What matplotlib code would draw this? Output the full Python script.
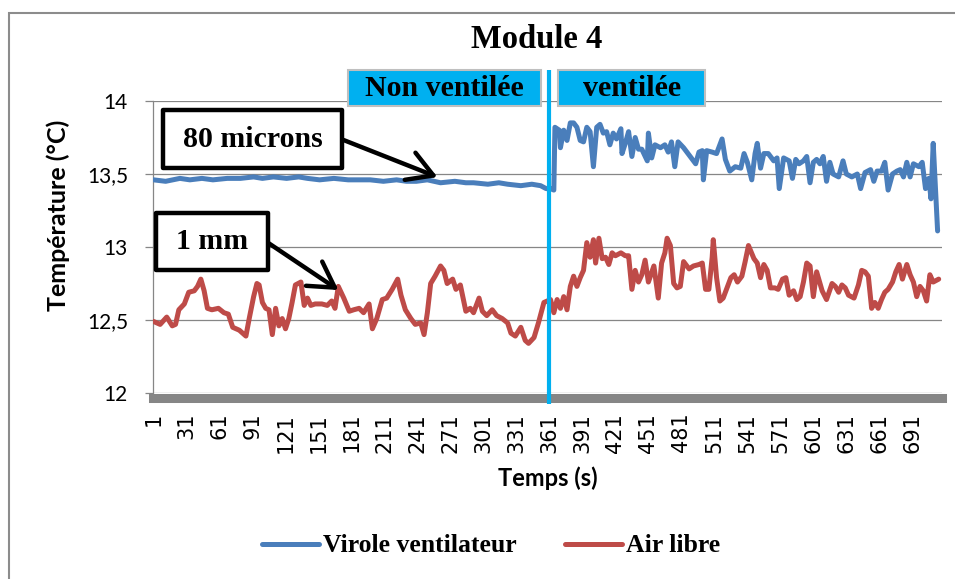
import matplotlib.pyplot as plt
from matplotlib.patches import Rectangle
from matplotlib.font_manager import FontProperties

# Virole ventilateur (blue) - time (s) and temperature (°C)
t_virole = [1, 12, 25, 34, 45, 55, 68, 80, 92, 100, 110, 122, 133, 141, 152, 165, 178,
            186, 198, 210, 222, 231, 240, 250, 262, 275, 285, 292, 305, 315, 323, 335,
            345, 353, 358, 362, 365,
            366, 370, 371, 374, 377, 380, 383, 386, 389, 392, 395, 398, 401, 404, 407,
            410, 413, 416, 419, 422, 426, 427, 430, 433, 436, 439, 442, 445, 450, 451,
            454, 457, 462, 466, 469, 472, 475, 478, 483, 486, 489, 494, 497, 500, 501,
            504, 509, 513, 518, 521, 525, 530, 535, 538, 541, 545, 548, 550, 553, 556,
            560, 565, 568, 570, 574, 579, 582, 585, 588, 592, 595, 598, 601, 604, 607,
            610, 613, 616, 619, 624, 628, 631, 636, 641, 644, 648, 653, 656, 659, 663,
            666, 669, 673, 677, 680, 683, 686, 689, 692, 697, 700, 703, 706, 708, 710, 714]
virole = [13.46, 13.45, 13.47, 13.46, 13.47, 13.46, 13.47, 13.47, 13.48, 13.47, 13.48,
          13.47, 13.48, 13.47, 13.46, 13.47, 13.46, 13.46, 13.46, 13.45, 13.46, 13.45,
          13.45, 13.46, 13.44, 13.45, 13.44, 13.44, 13.43, 13.44, 13.43, 13.42, 13.43,
          13.42, 13.40, 13.40, 13.39,
          13.82, 13.80, 13.68, 13.80, 13.73, 13.85, 13.85, 13.82, 13.73, 13.72, 13.82,
          13.79, 13.55, 13.82, 13.84, 13.78, 13.79, 13.70, 13.78, 13.74, 13.81, 13.64,
          13.71, 13.79, 13.62, 13.75, 13.67, 13.67, 13.59, 13.78, 13.61, 13.70, 13.68,
          13.70, 13.65, 13.72, 13.55, 13.72, 13.68, 13.65, 13.62, 13.57, 13.65, 13.66,
          13.46, 13.66, 13.65, 13.64, 13.74, 13.60, 13.52, 13.55, 13.54, 13.64, 13.58,
          13.46, 13.64, 13.71, 13.54, 13.64, 13.64, 13.59, 13.61, 13.40, 13.61, 13.59,
          13.47, 13.60, 13.57, 13.59, 13.62, 13.44, 13.58, 13.60, 13.57, 13.62, 13.45,
          13.58, 13.50, 13.48, 13.59, 13.50, 13.48, 13.50, 13.40, 13.51, 13.53, 13.45,
          13.52, 13.52, 13.58, 13.39, 13.50, 13.52, 13.53, 13.48, 13.58, 13.48, 13.57,
          13.55, 13.58, 13.40, 13.47, 13.33, 13.71, 13.11]

# Air libre (red)
t_air = [1, 7, 13, 18, 21, 24, 29, 33, 38, 41, 44, 47, 50, 54, 60, 65, 69, 73, 79, 85,
         88, 92, 95, 97, 100, 103, 106, 109, 112, 115, 118, 121, 124, 127, 130, 135, 138,
         141, 144, 148, 154, 159, 163, 166, 169, 174, 179, 183, 188, 192, 197, 200, 204,
         209, 213, 218, 223, 226, 230, 235, 239, 244, 247, 250, 253, 257, 262, 265, 268,
         273, 276, 280, 285, 289, 292, 297, 300, 304, 309, 313, 318, 323, 326, 330, 335,
         339, 342, 347, 351, 356,
         362, 365, 368, 371, 374, 377, 380, 383, 386, 389, 392, 395, 398, 401, 403, 406,
         409, 412, 415, 418, 421, 426, 430, 433, 436, 439, 442, 445, 448, 451, 456, 460,
         463, 466, 468, 471, 474, 477, 480, 483, 488, 492, 497, 500, 503, 506, 509, 510,
         513, 516, 519, 523, 526, 529, 532, 536, 539, 542, 547, 550, 553, 556, 559, 562,
         566, 569, 573, 576, 579, 583, 586, 589, 592, 595, 598, 601, 604, 609, 613, 618,
         621, 624, 627, 630, 633, 638, 642, 645, 648, 651, 654, 657, 660, 663, 666, 669,
         673, 676, 679, 682, 686, 689, 692, 695, 698, 701, 704, 707, 710, 715]
air = [12.49, 12.47, 12.52, 12.46, 12.47, 12.57, 12.61, 12.69, 12.70, 12.73, 12.78, 12.70,
       12.58, 12.57, 12.58, 12.55, 12.54, 12.45, 12.43, 12.39, 12.51, 12.66, 12.75, 12.74,
       12.62, 12.58, 12.57, 12.40, 12.58, 12.46, 12.51, 12.44, 12.51, 12.62, 12.74, 12.76,
       12.60, 12.65, 12.60, 12.61, 12.61, 12.60, 12.63, 12.58, 12.73, 12.65, 12.56, 12.57,
       12.58, 12.55, 12.61, 12.44, 12.51, 12.64, 12.65, 12.71, 12.78, 12.67, 12.57, 12.51,
       12.47, 12.48, 12.40, 12.55, 12.75, 12.80, 12.87, 12.84, 12.75, 12.78, 12.71, 12.74,
       12.56, 12.58, 12.55, 12.65, 12.56, 12.53, 12.57, 12.53, 12.51, 12.48, 12.41, 12.39,
       12.45, 12.36, 12.34, 12.38, 12.48, 12.62,
       12.64, 12.55, 12.64, 12.58, 12.66, 12.57, 12.73, 12.80, 12.73, 12.79, 12.84, 13.03,
       12.93, 13.05, 12.89, 13.06, 12.92, 12.93, 12.88, 12.96, 12.94, 12.96, 12.94, 12.94,
       12.71, 12.84, 12.76, 12.81, 12.91, 12.76, 12.87, 12.65, 12.89, 12.96, 13.06, 13.01,
       12.75, 12.72, 12.73, 12.90, 12.85, 12.87, 12.88, 12.89, 12.71, 12.71, 12.93, 13.05,
       12.79, 12.63, 12.65, 12.73, 12.79, 12.81, 12.76, 12.80, 12.90, 13.01, 12.92, 12.89,
       12.79, 12.88, 12.84, 12.72, 12.72, 12.71, 12.78, 12.79, 12.67, 12.70, 12.64, 12.66,
       12.76, 12.89, 12.87, 12.66, 12.83, 12.70, 12.64, 12.75, 12.73, 12.69, 12.74, 12.72,
       12.67, 12.65, 12.74, 12.84, 12.83, 12.80, 12.58, 12.62, 12.58, 12.64, 12.69, 12.71,
       12.76, 12.83, 12.88, 12.78, 12.88, 12.81, 12.76, 12.66, 12.73, 12.70, 12.63, 12.81,
       12.76, 12.78]

time_ticks = list(range(1, 692, 30))
temp_ticks = [12, 12.5, 13, 13.5, 14]
temp_labels = ["12", "12,5", "13", "13,5", "14"]
switch_time = 361

BLUE = "#4A7EBB"
RED = "#BE4B48"
CYAN = "#00B0F0"
GREY = "#868686"
SERIF = "Liberation Serif"
SANS = "Lato"

fig = plt.figure(figsize=(9.55, 5.79), dpi=100)
ax = fig.add_axes([153 / 955, 1 - 393 / 579, 789 / 955, 292 / 579])

line_kw = dict(lw=3.6, solid_joinstyle="round", solid_capstyle="round", zorder=3)
l1, = ax.plot(t_virole, virole, color=BLUE, label="Virole ventilateur", **line_kw)
l2, = ax.plot(t_air, air, color=RED, label="Air libre", **line_kw)

ax.set_xlim(0.5, 718)
ax.set_ylim(12, 14)
ax.tick_params(axis="y", length=6, color=GREY, width=0.9, pad=12, labelsize=15)
ax.tick_params(axis="x", length=0, pad=11, labelsize=15, labelrotation=90)
ax.set_xticks(time_ticks)
ax.set_xticklabels([str(t) for t in time_ticks])
ax.set_yticks(temp_ticks)
ax.set_yticklabels(temp_labels)
for lab in ax.get_xticklabels() + ax.get_yticklabels():
    lab.set_family(SANS)
ax.grid(axis="y", color=GREY, lw=0.9)
ax.set_axisbelow(True)
for s in ("top", "right"):
    ax.spines[s].set_visible(False)
ax.spines["left"].set_color(GREY)
ax.spines["left"].set_linewidth(0.9)
ax.spines["bottom"].set_color(GREY)
ax.spines["bottom"].set_linewidth(6.5)
ax.spines["bottom"].set_position(("outward", 3.3))

ax.set_xlabel("Temps (s)", family=SANS, fontweight="bold", fontsize=17)
ax.xaxis.set_label_coords(0.5, -0.25)
ax.set_ylabel("Température (°C)", family=SANS, fontweight="bold", fontsize=18)
ax.yaxis.set_label_coords(-0.105, 0.61)

fig.text(537 / 955, 1 - 40 / 579, "Module 4", family=SERIF, fontweight="bold",
         fontsize=23.5, ha="center", va="center")

# switch between non ventilated / ventilated
ax.vlines(switch_time, 11.925, 14.21, color=CYAN, lw=3, clip_on=False, zorder=5)
for x0, x1, label in [(177.4, 353.7, "Non ventilée"), (369.2, 502.8, "ventilée")]:
    ax.add_patch(Rectangle((x0, 13.966), x1 - x0, 14.212 - 13.966, fc=CYAN, ec="#BFBFBF",
                           lw=1.5, clip_on=False, zorder=4))
    ax.text((x0 + x1) / 2, 14.089, label, family=SERIF, fontweight="bold", fontsize=21.5,
            ha="center", va="center", zorder=6, clip_on=False)

# callouts
callouts = [
    ("80 microns", (9.2, 13.541, 172.8, 13.938), (173.7, 13.733), (259.2, 13.479)),
    ("1 mm", (2.8, 12.842, 105.5, 13.233), (105.5, 13.027), (169.2, 12.705)),
]
for label, (x0, y0, x1, y1), start, tip in callouts:
    ax.add_patch(Rectangle((x0, y0), x1 - x0, y1 - y0, fc="white", ec="black", lw=3.2,
                           joinstyle="round", clip_on=False, zorder=6))
    ax.text((x0 + x1) / 2, (y0 + y1) / 2, label, family=SERIF, fontweight="bold",
            fontsize=21.5, ha="center", va="center", zorder=7)
    ax.annotate("", xy=tip, xytext=start, zorder=7,
                arrowprops=dict(arrowstyle="->,head_length=0.6,head_width=0.35", lw=3.2,
                                color="black", shrinkA=0, shrinkB=0, mutation_scale=30))

ax.legend(handles=[l1, l2], loc="center", bbox_to_anchor=(491 / 955, 33 / 579),
          bbox_transform=fig.transFigure, ncol=2, frameon=False,
          prop=FontProperties(family=SERIF, weight="bold", size=18.5),
          handlelength=2.2, handletextpad=0.15, columnspacing=1.9)

# chart frame
fig.patches.append(Rectangle((9 / 955, -0.1), 1.2, 1.1 - 12.7 / 579, transform=fig.transFigure,
                             fill=False, ec="#8C8C8C", lw=1.5))

fig.savefig("out.png", dpi=100)
